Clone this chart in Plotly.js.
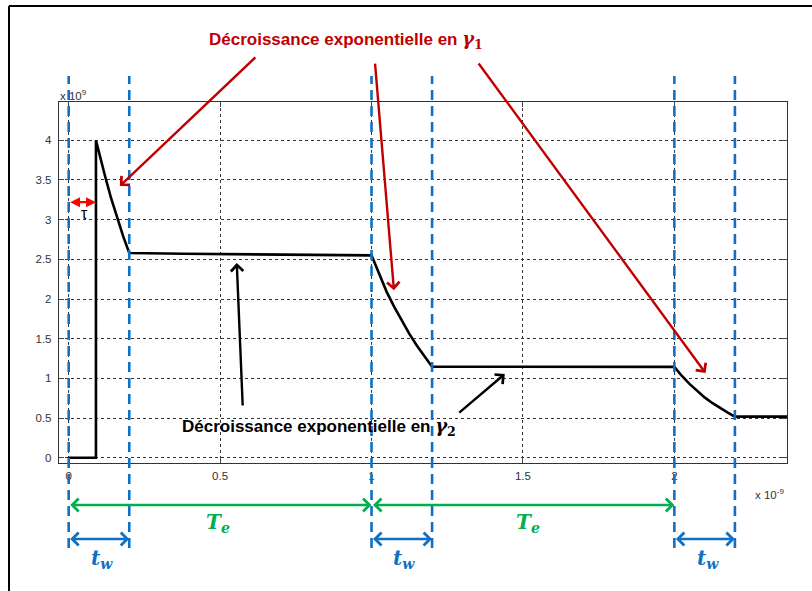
<!DOCTYPE html>
<html>
<head>
<meta charset="utf-8">
<script src="https://cdn.plot.ly/plotly-3.0.1.min.js"></script>
<style>
  html, body { margin: 0; padding: 0; background: #fff; }
  #chart { width: 812px; height: 591px; }
</style>
</head>
<body>
<div id="chart"></div>
<script>
// Time axis in units of 1e-9 s, density in units of 1e9
const timeNs = [0, 0.09, 0.09, 0.10, 0.12, 0.14, 0.16, 0.18, 0.20, 0.38,
                1.00, 1.025, 1.05, 1.075, 1.10, 1.125, 1.15, 1.175, 1.20,
                2.00, 2.025, 2.05, 2.075, 2.10, 2.125, 2.15, 2.175, 2.20, 2.40];
const density = [0, 0, 4.0, 3.84, 3.55, 3.27, 3.02, 2.79, 2.58, 2.57,
                 2.55, 2.31, 2.09, 1.90, 1.72, 1.56, 1.41, 1.28, 1.147,
                 1.145, 1.03, 0.93, 0.84, 0.76, 0.69, 0.625, 0.57, 0.517, 0.517];

// Pulse instants and pulse width (same units as timeNs)
const pulseStarts = [0, 1, 2];
const pulseWidth = 0.2;
const tau = 0.09;

const xTickVals = [0, 0.5, 1, 1.5, 2];
const xTickText = ['0', '0.5', '1', '1.5', '2'];
const yTickVals = [0, 0.5, 1, 1.5, 2, 2.5, 3, 3.5, 4];
const yTickText = ['0', '0.5', '1', '1.5', '2', '2.5', '3', '3.5', '4'];

// Figure geometry (pixels) and helpers mapping figure pixels to paper coords
const W = 812, H = 591;
const PL = 59, PR = 787, PT = 102, PB = 463;
const px = v => (v - PL) / (PR - PL);
const py = v => (PB - v) / (PB - PT);

const RED = '#C00000', GREEN = '#00B050', BLUE = '#1070C4';
const SERIF = "'DejaVu Serif', serif";
const SANS = "'Liberation Sans', Arial, sans-serif";

const trace = {
  x: timeNs, y: density, type: 'scatter', mode: 'lines',
  line: { color: '#000', width: 2.6 }, hoverinfo: 'skip'
};

const shapes = [];
// dashed pulse boundaries
pulseStarts.forEach(t0 => {
  [t0, t0 + pulseWidth].forEach(xv => {
    shapes.push({
      type: 'line', xref: 'x', yref: 'paper', x0: xv, x1: xv,
      y0: py(548), y1: py(76),
      line: { color: BLUE, width: 2.6, dash: '10px,6px' }
    });
  });
});
// outer frame (top and left edges)
shapes.push({ type: 'line', xref: 'paper', yref: 'paper', x0: px(9), x1: px(830), y0: py(6), y1: py(6), line: { color: '#000', width: 2 } });
shapes.push({ type: 'line', xref: 'paper', yref: 'paper', x0: px(9), x1: px(9), y0: py(6), y1: py(610), line: { color: '#000', width: 2 } });

const annotations = [];

function arrowBetween(xa, xb, yPaper, color, width) {
  annotations.push({
    x: xb, y: yPaper, xref: 'x', yref: 'paper',
    ax: xa, ay: 0, axref: 'x', ayref: 'pixel',
    showarrow: true, arrowhead: 4, arrowside: 'end+start',
    arrowsize: 1, arrowwidth: width, arrowcolor: color,
    standoff: 0, startstandoff: 0, text: ''
  });
}

// T_e arrows between consecutive pulses
for (let i = 0; i < pulseStarts.length - 1; i++) {
  arrowBetween(pulseStarts[i], pulseStarts[i + 1], py(505), GREEN, 2.5);
}
// t_w arrows across each pulse
pulseStarts.forEach(t0 => arrowBetween(t0, t0 + pulseWidth, py(539), BLUE, 2.5));

// tau marker
annotations.push({
  x: tau, y: 3.22, xref: 'x', yref: 'y', ax: 0, ay: 3.22, axref: 'x', ayref: 'y',
  showarrow: true, arrowhead: 2, arrowside: 'end+start', arrowsize: 0.9, arrowwidth: 2.2,
  arrowcolor: '#FF0000', standoff: 0, startstandoff: 0, text: ''
});

// pointer arrows (head at data point, tail offset in pixels)
function pointer(xh, yh, dx, dy, color) {
  annotations.push({
    x: xh, y: yh, xref: 'x', yref: 'y', ax: dx, ay: dy, axref: 'pixel', ayref: 'pixel',
    showarrow: true, arrowhead: 4, arrowsize: 1, arrowwidth: 2.4, arrowcolor: color,
    standoff: 0, text: ''
  });
}
pointer(0.169, 3.424, 137, -130, RED);
pointer(1.074, 2.111, -19, -228, RED);
pointer(2.103, 1.067, -228, -311, RED);
pointer(0.555, 2.453, 6, 144, '#000');
pointer(1.440, 1.055, -47, 40, '#000');

function label(xPix, yPix, text, size, color, family, anchor) {
  annotations.push({
    x: px(xPix), y: py(yPix), xref: 'paper', yref: 'paper',
    xanchor: anchor || 'center', yanchor: 'middle', showarrow: false,
    text: text, font: { size: size, color: color, family: family }
  });
}

const gammaTxt = k => `<span style="font-family:${SERIF};font-size:18px"><b><i>γ</i></b><sub><b>${k}</b></sub></span>`;
label(346, 40, '<b>Décroissance exponentielle en </b>' + gammaTxt(1), 17, RED, SANS);
label(319, 427, '<b>Décroissance exponentielle en </b>' + gammaTxt(2), 17, '#000', SANS);

const teTxt = '<b><i>T</i></b><sub><b><i>e</i></b></sub>';
label(218, 523, teTxt, 20, GREEN, SERIF);
label(528, 523, teTxt, 20, GREEN, SERIF);
const twTxt = '<b><i>t</i></b><sub><b><i>w</i></b></sub>';
label(102, 559, twTxt, 20, BLUE, SERIF);
label(404, 559, twTxt, 20, BLUE, SERIF);
label(708, 559, twTxt, 20, BLUE, SERIF);

label(84, 213, 'τ', 16, '#000', SANS);

label(58, 95, 'x 10<sup>9</sup>', 11.5, '#333', SANS, 'left');
label(753, 494, 'x 10<sup>-9</sup>', 11.5, '#333', SANS, 'left');

const axisCommon = {
  showline: true, mirror: 'ticks', linecolor: '#333', linewidth: 1.2,
  ticks: 'inside', ticklen: 5, tickcolor: '#444', tickwidth: 1,
  showgrid: true, gridcolor: '#333', gridwidth: 1, griddash: '3px,3px',
  zeroline: false, tickfont: { family: SANS, size: 11.5, color: '#333' },
  tickmode: 'array', fixedrange: true
};

const layout = {
  width: W, height: H,
  margin: { l: PL, r: W - PR, t: PT, b: H - PB, pad: 0 },
  paper_bgcolor: '#fff', plot_bgcolor: '#fff',
  showlegend: false,
  xaxis: Object.assign({}, axisCommon, { range: [-0.032, 2.372], tickvals: xTickVals, ticktext: xTickText, ticklabelstandoff: 2 }),
  yaxis: Object.assign({}, axisCommon, { range: [-0.067, 4.483], tickvals: yTickVals, ticktext: yTickText, ticklabelstandoff: 4 }),
  shapes: shapes,
  annotations: annotations
};

Plotly.newPlot('chart', [trace], layout, { staticPlot: true, displayModeBar: false });
</script>
</body>
</html>
